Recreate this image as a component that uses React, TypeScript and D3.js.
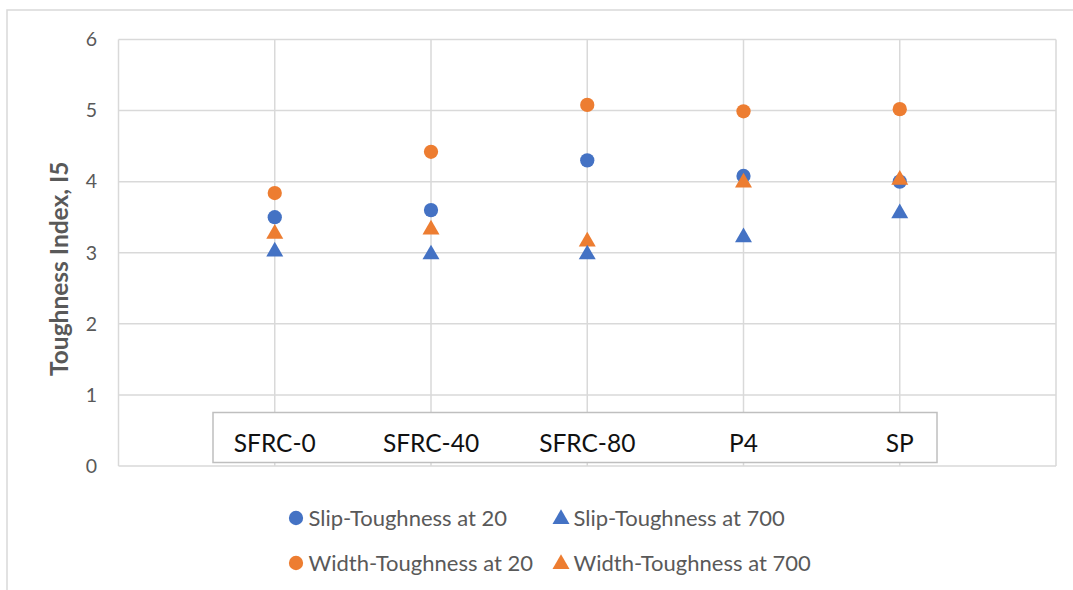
import React from "react";
import * as d3 from "d3";

const categories = ["SFRC-0", "SFRC-40", "SFRC-80", "P4", "SP"];
const slip20 = [3.5, 3.6, 4.3, 4.08, 4.0];
const slip700 = [3.03, 2.99, 2.99, 3.23, 3.57];
const width20 = [3.84, 4.42, 5.08, 4.99, 5.02];
const width700 = [3.28, 3.34, 3.17, 4.0, 4.04];
const yTicks = [0, 1, 2, 3, 4, 5, 6];
const yTitle = "Toughness Index, I5";

const BLUE = "#4472C4";
const ORANGE = "#ED7D31";
const GRID = "#d9d9d9";
const TEXT = "#595959";
const FONT = "Lato, 'Open Sans', sans-serif";

const series = [
  { name: "Slip-Toughness at 20", values: slip20, color: BLUE, shape: "circle" },
  { name: "Slip-Toughness at 700", values: slip700, color: BLUE, shape: "triangle" },
  { name: "Width-Toughness at 20", values: width20, color: ORANGE, shape: "circle" },
  { name: "Width-Toughness at 700", values: width700, color: ORANGE, shape: "triangle" },
];

const drawOrder = [2, 0, 3, 1];

const W = 1073;
const H = 590;
const plot = { left: 118.5, right: 1056, top: 39.5, bottom: 466 };

export default function App() {
  const x = d3.scaleLinear().domain([0, categories.length + 1]).range([plot.left, plot.right]);
  const y = d3.scaleLinear().domain([0, 6]).range([plot.bottom, plot.top]);
  const circle = d3.symbol().type(d3.symbolCircle).size(160);
  const tri = d3.symbol().type(d3.symbolTriangle).size(125);

  const marker = (shape: string, color: string, cx: number, cy: number, key: string) =>
    shape === "circle" ? (
      <path key={key} d={circle() as string} transform={`translate(${cx},${cy})`} fill={color} />
    ) : (
      <path key={key} d={tri() as string} transform={`translate(${cx},${cy + 1})`} fill={color} />
    );

  const boxLeft = 213;
  const boxRight = 937;
  const boxTop = 412.5;
  const boxBottom = 462.5;

  const legendRows = [
    { y: 518, items: [series[0], series[1]] },
    { y: 563, items: [series[2], series[3]] },
  ];
  const legendX = [296, 561];

  return (
    <svg
      width={W}
      height={H}
      style={{ position: "absolute", left: 0, top: 0, background: "#fff" }}
      fontFamily={FONT}
    >
      <rect x={0} y={0} width={W} height={H} fill="#fff" />
      <rect x={7} y={10} width={W + 20} height={H + 20} fill="none" stroke={GRID} strokeWidth={1.5} />

      {yTicks.map((t) => (
        <line key={"h" + t} x1={plot.left} x2={plot.right} y1={y(t)} y2={y(t)} stroke={GRID} strokeWidth={1.5} />
      ))}
      {d3.range(0, categories.length + 2).map((i) => (
        <line key={"v" + i} x1={x(i)} x2={x(i)} y1={plot.top} y2={plot.bottom} stroke={GRID} strokeWidth={1.5} />
      ))}

      {yTicks.map((t) => (
        <text key={"t" + t} x={97} y={y(t)} dy="0.35em" textAnchor="end" fontSize={19.5} fill={TEXT}>
          {t}
        </text>
      ))}

      <text
        transform={`translate(68,${(plot.top + plot.bottom) / 2 + 16}) rotate(-90)`}
        textAnchor="middle"
        fontSize={24.5}
        fontWeight="bold"
        fill={TEXT}
      >
        {yTitle}
      </text>

      <rect
        x={boxLeft}
        y={boxTop}
        width={boxRight - boxLeft}
        height={boxBottom - boxTop}
        fill="#fff"
        stroke="#bfbfbf"
        strokeWidth={1.5}
      />
      {categories.map((c, i) => (
        <text key={c} x={x(i + 1)} y={452} textAnchor="middle" fontSize={24.5} fill="#111">
          {c}
        </text>
      ))}

      {drawOrder.map((si) =>
        series[si].values.map((v, i) =>
          marker(series[si].shape, series[si].color, x(i + 1), y(v), `m${si}-${i}`)
        )
      )}

      {legendRows.map((row, ri) =>
        row.items.map((s, ci) => (
          <g key={`l${ri}-${ci}`}>
            {marker(s.shape, s.color, legendX[ci], row.y, "lm")}
            <text x={legendX[ci] + 12.5} y={row.y} dy="0.35em" fontSize={22} fill={TEXT}>
              {s.name}
            </text>
          </g>
        ))
      )}
    </svg>
  );
}
